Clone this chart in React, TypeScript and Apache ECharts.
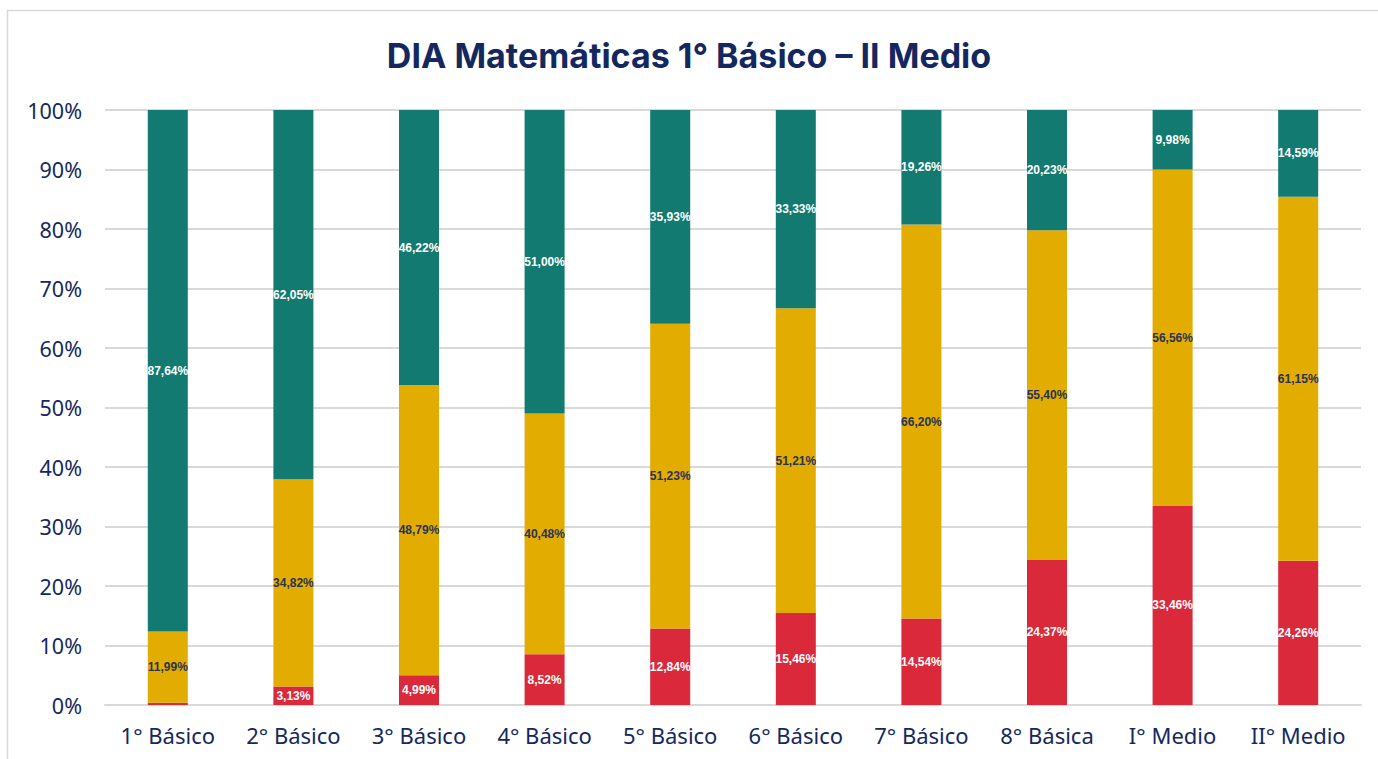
import React, { useEffect, useRef } from "react";
import * as echarts from "echarts";

const categories = ["1° Básico", "2° Básico", "3° Básico", "4° Básico", "5° Básico", "6° Básico", "7° Básico", "8° Básica", "I° Medio", "II° Medio"];
const redValues = [0.37, 3.13, 4.99, 8.52, 12.84, 15.46, 14.54, 24.37, 33.46, 24.26];
const yellowValues = [11.99, 34.82, 48.79, 40.48, 51.23, 51.21, 66.2, 55.4, 56.56, 61.15];
const tealValues = [87.64, 62.05, 46.22, 51.0, 35.93, 33.33, 19.26, 20.23, 9.98, 14.59];
const titleText = "DIA Matemáticas 1° Básico – II Medio";

const NAVY = "#14285F";

const fmt = (p: any) => (p.value < 1 ? "" : p.value.toFixed(2).replace(".", ",") + "%");

export default function App() {
  const ref = useRef<HTMLDivElement>(null);
  useEffect(() => {
    const chart = echarts.init(ref.current!, null, { renderer: "svg" });
    const labelBase = {
      show: true,
      position: "inside" as const,
      fontSize: 12,
      fontWeight: "bold" as const,
      fontFamily: "Liberation Sans, Arial, sans-serif",
      formatter: fmt,
    };
    chart.setOption({
      animation: false,
      backgroundColor: "#ffffff",
      title: {
        text: titleText,
        left: "center",
        top: 33,
        textStyle: { color: NAVY, fontSize: 34, fontWeight: "bold", fontFamily: "Inter, Noto Sans, sans-serif" },
      },
      graphic: [
        {
          type: "rect",
          shape: { x: 7.5, y: 10.5, width: 1390, height: 780 },
          style: { fill: "none", stroke: "#d9d9d9", lineWidth: 1.5 },
          silent: true,
        },
      ],
      grid: { left: 105, right: 17, top: 110, bottom: 54, containLabel: false },
      xAxis: {
        type: "category",
        data: categories,
        axisLine: { show: true, lineStyle: { color: "#d9d9d9", width: 2 } },
        axisTick: { show: false },
        axisLabel: { color: NAVY, fontSize: 22, margin: 19, fontFamily: "Noto Sans, sans-serif" },
      },
      yAxis: {
        type: "value",
        min: 0,
        max: 100,
        interval: 10,
        axisLine: { show: false },
        axisTick: { show: false },
        splitLine: { lineStyle: { color: "#d9d9d9", width: 2 } },
        axisLabel: { color: NAVY, fontSize: 21.5, margin: 23, formatter: "{value}%", fontFamily: "Noto Sans, sans-serif" },
      },
      series: [
        {
          name: "red",
          type: "bar",
          stack: "total",
          barWidth: 40,
          data: redValues,
          itemStyle: { color: "#D9293A" },
          label: { ...labelBase, color: "#ffffff" },
        },
        {
          name: "yellow",
          type: "bar",
          stack: "total",
          barWidth: 40,
          data: yellowValues,
          itemStyle: { color: "#E2AC00" },
          label: { ...labelBase, color: "#2B3358" },
        },
        {
          name: "teal",
          type: "bar",
          stack: "total",
          barWidth: 40,
          data: tealValues,
          itemStyle: { color: "#127A70" },
          label: { ...labelBase, color: "#ffffff" },
        },
      ],
    });
    return () => chart.dispose();
  }, []);
  return <div ref={ref} style={{ position: "fixed", left: 0, top: 0, width: 1378, height: 759 }} />;
}
